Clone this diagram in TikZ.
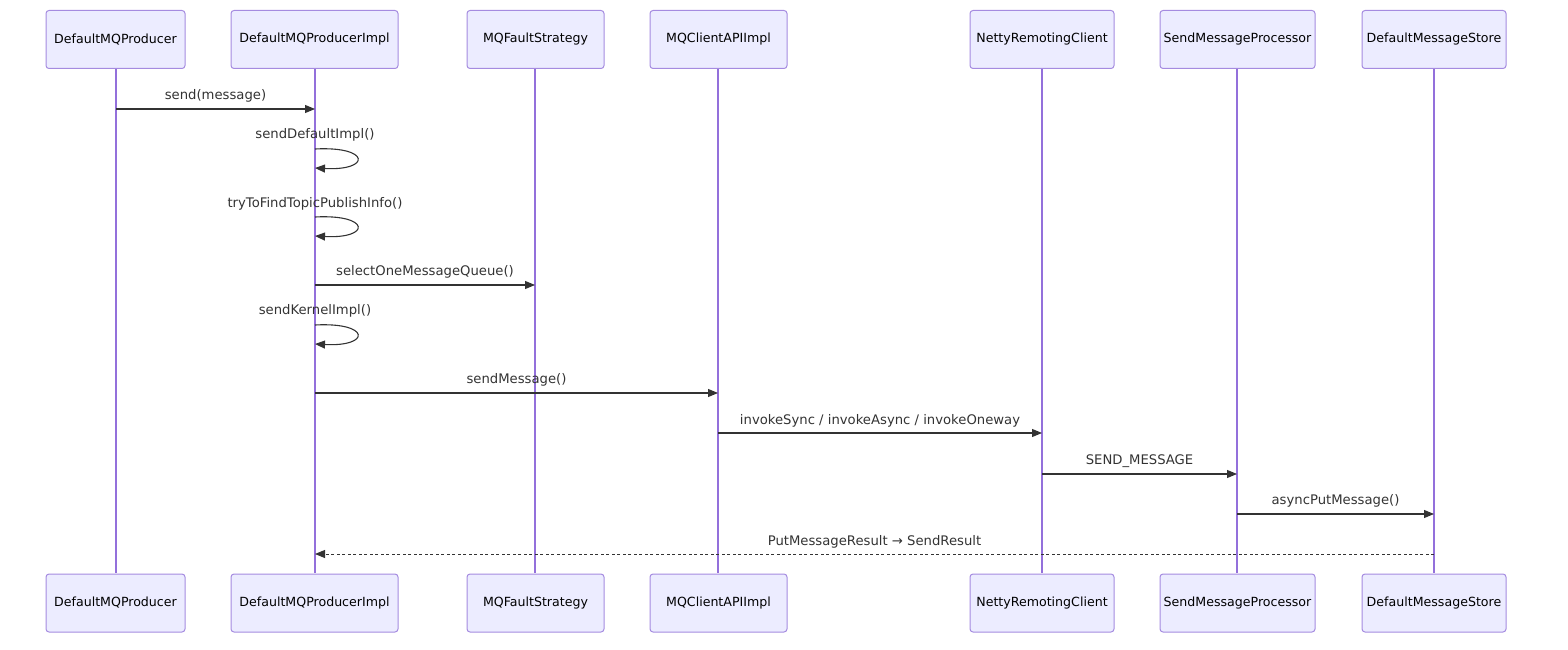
\documentclass[tikz,border=0pt]{standalone}
\usepackage{fontspec}
\setmainfont{DejaVu Sans}
\usetikzlibrary{arrows.meta}
\definecolor{actfill}{HTML}{ECECFF}
\definecolor{actborder}{HTML}{A58BE0}
\definecolor{lifecol}{HTML}{9370DB}
\definecolor{msgcol}{HTML}{333333}
\begin{document}
\begin{tikzpicture}[x=1pt,y=-1pt,
  actor/.style={draw=actborder,fill=actfill,rounded corners=3pt,line width=1pt,
    minimum height=58pt,inner sep=0pt,font=\fontsize{12.6}{15}\selectfont,text=black},
  lifeline/.style={draw=lifecol,line width=1.6pt},
  msg/.style={draw=msgcol,line width=1.1pt,-{Triangle[length=10pt,width=8pt]}},
  reply/.style={msg,line width=0.9pt,dash pattern=on 3pt off 2.5pt},
  lbl/.style={font=\fontsize{13.2}{15}\selectfont,text=msgcol,inner sep=0pt}]
\useasboundingbox (0,0) rectangle (1568,650);
% lifeline x positions
\foreach \n/\x in {a/116,b/315,c/535,d/718,e/1042,f/1237,g/1434}{
  \coordinate (\n t) at (\x,68);
  \coordinate (\n b) at (\x,573);
}
\draw[lifeline] (at) -- (ab);
\draw[lifeline] (bt) -- (bb);
\draw[lifeline] (ct) -- (cb);
\draw[lifeline] (dt) -- (db);
\draw[lifeline] (et) -- (eb);
\draw[lifeline] (ft) -- (fb);
\draw[lifeline] (gt) -- (gb);
% actors
\foreach \n/\x/\w/\t in {a/115.5/139/DefaultMQProducer,b/314.5/167/DefaultMQProducerImpl,
  c/535.5/137/MQFaultStrategy,d/718.5/137/MQClientAPIImpl,e/1042/144/NettyRemotingClient,
  f/1237.5/155/SendMessageProcessor,g/1434/144/DefaultMessageStore}{
  \node[actor,minimum width=\w pt] (\n1) at (\x,39.5) {\t};
  \node[actor,minimum width=\w pt] (\n2) at (\x,603) {\t};
}
% messages
\coordinate (m1s) at (116,109); \coordinate (m1e) at (315,109);
\draw[msg] (m1s) -- (m1e);
\node[lbl] (l1) at (215.5,96) {send(message)};

\coordinate (s1s) at (315,149); \coordinate (s1e) at (315,168);
\draw[msg] (s1s) .. controls (371,146) and (371,171) .. (s1e);
\node[lbl] (l2) at (315,135) {sendDefaultImpl()};

\coordinate (s2s) at (315,217); \coordinate (s2e) at (315,236);
\draw[msg] (s2s) .. controls (371,214) and (371,239) .. (s2e);
\node[lbl] (l3) at (315,204) {tryToFindTopicPublishInfo()};

\coordinate (m2s) at (315,285); \coordinate (m2e) at (535,285);
\draw[msg] (m2s) -- (m2e);
\node[lbl] (l4) at (425,272) {selectOneMessageQueue()};

\coordinate (s3s) at (315,325); \coordinate (s3e) at (315,344);
\draw[msg] (s3s) .. controls (371,322) and (371,347) .. (s3e);
\node[lbl] (l5) at (315,311) {sendKernelImpl()};

\coordinate (m3s) at (315,393); \coordinate (m3e) at (718,393);
\draw[msg] (m3s) -- (m3e);
\node[lbl] (l6) at (516.5,380) {sendMessage()};

\coordinate (m4s) at (718,433); \coordinate (m4e) at (1042,433);
\draw[msg] (m4s) -- (m4e);
\node[lbl] (l7) at (880,421) {invokeSync / invokeAsync / invokeOneway};

\coordinate (m5s) at (1042,474); \coordinate (m5e) at (1237,474);
\draw[msg] (m5s) -- (m5e);
\node[lbl] (l8) at (1139.5,461) {SEND\_MESSAGE};

\coordinate (m6s) at (1237,514); \coordinate (m6e) at (1434,514);
\draw[msg] (m6s) -- (m6e);
\node[lbl] (l9) at (1335.5,501) {asyncPutMessage()};

\coordinate (m7s) at (1434,554); \coordinate (m7e) at (315,554);
\draw[reply] (m7s) -- (m7e);
\node[lbl] (l10) at (874.5,542) {PutMessageResult → SendResult};
\end{tikzpicture}
\end{document}
